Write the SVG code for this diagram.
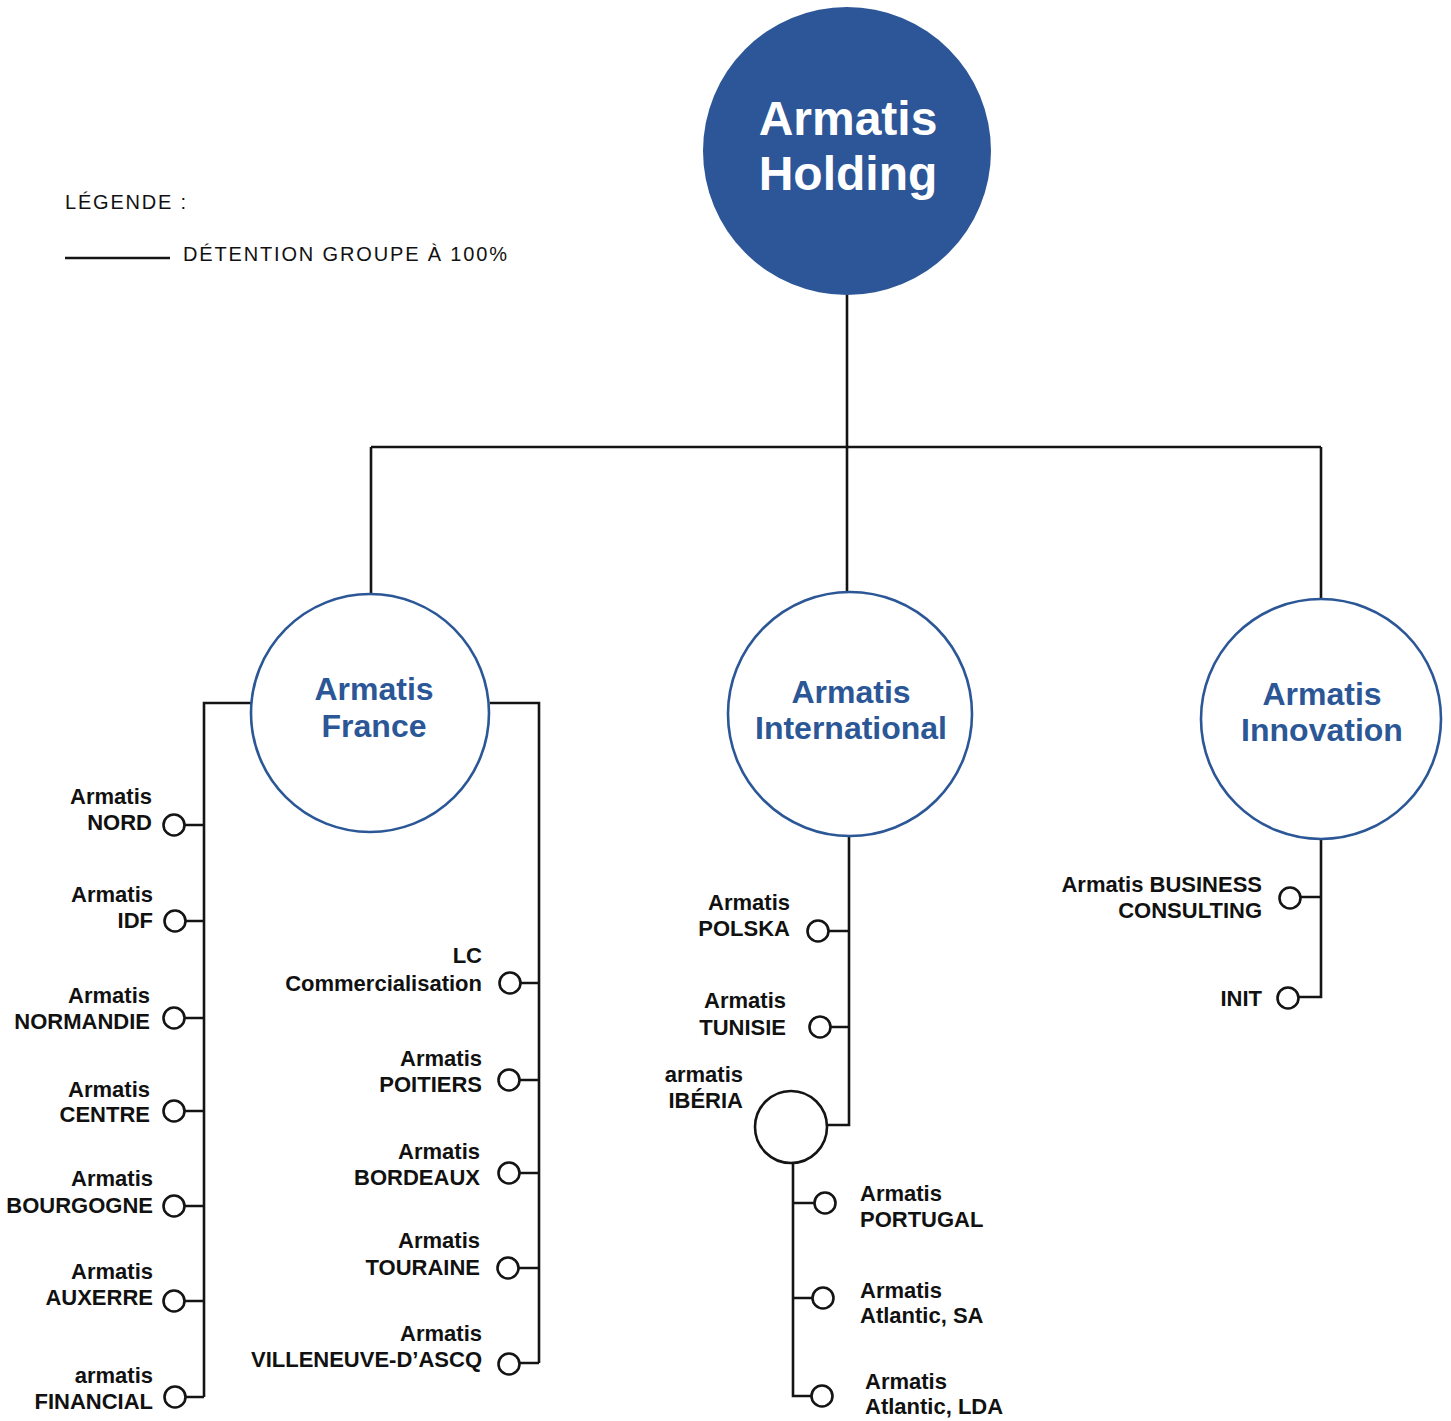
<svg xmlns="http://www.w3.org/2000/svg" width="1451" height="1421" viewBox="0 0 1451 1421">
<style>
.ln{stroke:#141414;stroke-width:2.6;fill:none}
.dot{stroke:#141414;stroke-width:2.6;fill:#fff}
.sub{stroke:#2B5797;stroke-width:2.6;fill:#fff}
.lbl{font-family:"Liberation Sans",Arial,sans-serif;font-weight:bold;font-size:22px;fill:#111}
.r{text-anchor:end}
.big{font-family:"Liberation Sans",Arial,sans-serif;font-weight:bold;font-size:32px;fill:#2B5797;text-anchor:middle}
.hold{font-family:"Liberation Sans",Arial,sans-serif;font-weight:bold;font-size:48px;fill:#fff;text-anchor:middle}
.leg{font-family:"Liberation Sans",Arial,sans-serif;font-size:20px;fill:#111}
</style>
<rect width="1451" height="1421" fill="#fff"/>
<g id="legend">
<text class="leg" x="65" y="209" textLength="121" lengthAdjust="spacing">LÉGENDE :</text>
<line class="ln" x1="65" y1="258" x2="170" y2="258"/>
<text class="leg" x="183" y="261" textLength="324" lengthAdjust="spacing">DÉTENTION GROUPE À 100%</text>
</g>
<g id="connectors">
<path class="ln" d="M847 295V447M371 447H1321M371 447V594M847 447V592M1321 447V599"/>
<path class="ln" d="M251 703H204V1397M490 703H539V1363"/>
<path class="ln" d="M184 825H204M184 921H204M184 1018H204M184 1111H204M184 1206H204M184 1301H204M184 1397H204"/>
<path class="ln" d="M520 983H539M520 1080H539M519 1173H539M518 1268H539M520 1363H539"/>
<path class="ln" d="M849 836V1125H827M828 931H849M830 1027H849"/>
<path class="ln" d="M793 1163V1396H812M793 1203H815M793 1298H813"/>
<path class="ln" d="M1321 839V997H1298M1300 897H1321"/>
</g>
<g id="holding">
<circle cx="847" cy="151" r="144" fill="#2C5697"/>
<text class="hold" x="848" y="135">Armatis</text>
<text class="hold" x="848" y="190">Holding</text>
</g>
<g id="france">
<circle class="sub" cx="370" cy="713" r="119"/>
<text class="big" x="374" y="700">Armatis</text>
<text class="big" x="374" y="737">France</text>
</g>
<g id="international">
<circle class="sub" cx="850" cy="714" r="122"/>
<text class="big" x="851" y="703">Armatis</text>
<text class="big" x="851" y="739">International</text>
</g>
<g id="innovation">
<circle class="sub" cx="1321" cy="719" r="120"/>
<text class="big" x="1322" y="705">Armatis</text>
<text class="big" x="1322" y="741">Innovation</text>
</g>
<g id="nord"><circle class="dot" cx="174" cy="825" r="10.5"/><text class="lbl r" x="152" y="804">Armatis</text><text class="lbl r" x="152" y="830">NORD</text></g>
<g id="idf"><circle class="dot" cx="175" cy="921" r="10.5"/><text class="lbl r" x="153" y="902">Armatis</text><text class="lbl r" x="153" y="928">IDF</text></g>
<g id="normandie"><circle class="dot" cx="174" cy="1018" r="10.5"/><text class="lbl r" x="150" y="1003">Armatis</text><text class="lbl r" x="150" y="1029">NORMANDIE</text></g>
<g id="centre"><circle class="dot" cx="174" cy="1111" r="10.5"/><text class="lbl r" x="150" y="1097">Armatis</text><text class="lbl r" x="150" y="1122">CENTRE</text></g>
<g id="bourgogne"><circle class="dot" cx="174" cy="1206" r="10.5"/><text class="lbl r" x="153" y="1186">Armatis</text><text class="lbl r" x="153" y="1213">BOURGOGNE</text></g>
<g id="auxerre"><circle class="dot" cx="174" cy="1301" r="10.5"/><text class="lbl r" x="153" y="1279">Armatis</text><text class="lbl r" x="153" y="1305">AUXERRE</text></g>
<g id="financial"><circle class="dot" cx="175" cy="1397" r="10.5"/><text class="lbl r" x="153" y="1383">armatis</text><text class="lbl r" x="153" y="1409">FINANCIAL</text></g>
<g id="lc"><circle class="dot" cx="510" cy="983" r="10.5"/><text class="lbl r" x="482" y="963">LC</text><text class="lbl r" x="482" y="991">Commercialisation</text></g>
<g id="poitiers"><circle class="dot" cx="509" cy="1080" r="10.5"/><text class="lbl r" x="482" y="1066">Armatis</text><text class="lbl r" x="482" y="1092">POITIERS</text></g>
<g id="bordeaux"><circle class="dot" cx="509" cy="1173" r="10.5"/><text class="lbl r" x="480" y="1159">Armatis</text><text class="lbl r" x="480" y="1185">BORDEAUX</text></g>
<g id="touraine"><circle class="dot" cx="508" cy="1268" r="10.5"/><text class="lbl r" x="480" y="1248">Armatis</text><text class="lbl r" x="480" y="1275">TOURAINE</text></g>
<g id="villeneuve"><circle class="dot" cx="509" cy="1364" r="10.5"/><text class="lbl r" x="482" y="1341">Armatis</text><text class="lbl r" x="482" y="1367">VILLENEUVE-D’ASCQ</text></g>
<g id="polska"><circle class="dot" cx="818" cy="931" r="10.5"/><text class="lbl r" x="790" y="910">Armatis</text><text class="lbl r" x="790" y="936">POLSKA</text></g>
<g id="tunisie"><circle class="dot" cx="820" cy="1027" r="10.5"/><text class="lbl r" x="786" y="1008">Armatis</text><text class="lbl r" x="786" y="1035">TUNISIE</text></g>
<g id="iberia"><circle class="dot" cx="791" cy="1127" r="36"/><text class="lbl r" x="743" y="1082">armatis</text><text class="lbl r" x="743" y="1108">IBÉRIA</text></g>
<g id="portugal"><circle class="dot" cx="825" cy="1203" r="10.5"/><text class="lbl" x="860" y="1201">Armatis</text><text class="lbl" x="860" y="1227">PORTUGAL</text></g>
<g id="atlantic-sa"><circle class="dot" cx="823" cy="1298" r="10.5"/><text class="lbl" x="860" y="1298">Armatis</text><text class="lbl" x="860" y="1323">Atlantic, SA</text></g>
<g id="atlantic-lda"><circle class="dot" cx="822" cy="1396" r="10.5"/><text class="lbl" x="865" y="1389">Armatis</text><text class="lbl" x="865" y="1414">Atlantic, LDA</text></g>
<g id="business"><circle class="dot" cx="1290" cy="898" r="10.5"/><text class="lbl r" x="1262" y="892">Armatis BUSINESS</text><text class="lbl r" x="1262" y="918">CONSULTING</text></g>
<g id="init"><circle class="dot" cx="1288" cy="998" r="10.5"/><text class="lbl r" x="1262" y="1006">INIT</text></g>
</svg>
